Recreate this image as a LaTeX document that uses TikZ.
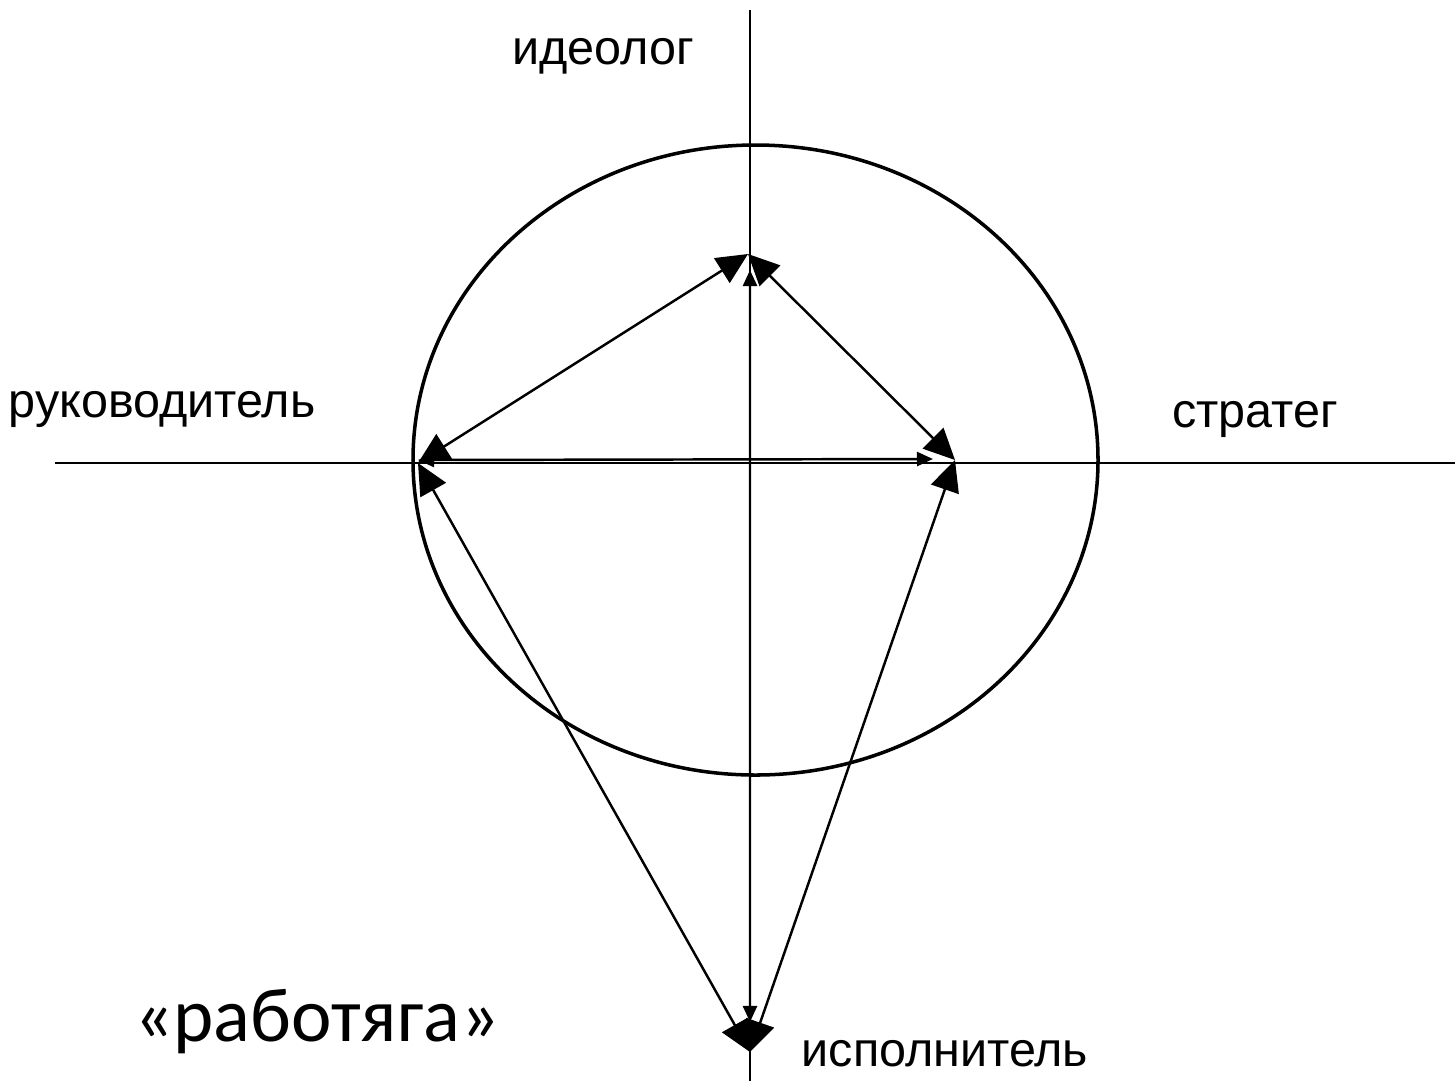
\documentclass[tikz,border=0pt]{standalone}
\usepackage{fontspec}
\setmainfont{Liberation Sans}
\newfontfamily\workerfont{Carlito}
\usetikzlibrary{arrows.meta, positioning}
\begin{document}
\begin{tikzpicture}[
  x=0.01cm, y=-0.01cm,
  role/.style={font=\fontsize{13.8}{16}\selectfont, inner sep=0pt},
  axis/.style={line width=0.5pt},
  link/.style={line width=0.7pt, {Triangle[length=3.1mm, width=2.9mm]}-{Triangle[length=3.1mm, width=2.9mm]}},
  minor/.style={line width=0.7pt, {Triangle[length=1.6mm, width=1.4mm]}-{Triangle[length=1.6mm, width=1.4mm]}}
]
  \useasboundingbox (0,0) rectangle (1455,1081);

  % axes and the circle
  \draw[axis] (750,10) -- (750,1081);
  \draw[axis] (55,463) -- (1455,463);
  \draw[line width=1pt] (755.5,460) ellipse [x radius=342.5, y radius=315];

  % roles
  \coordinate (ideo)  at (748,254);
  \coordinate (ruk)   at (418,463);
  \coordinate (strat) at (955,460);
  \coordinate (isp)   at (750,1052);

  \node[role] (ideoTxt)  at (603,56)   {идеолог};
  \node[role] (rukTxt)   at (162,409)  {руководитель};
  \node[role] (stratTxt) at (1255,419) {стратег};
  \node[role] (ispTxt)   at (945,1054) {исполнитель};
  \node[font=\workerfont\fontsize{21.8}{26}\selectfont, inner sep=0pt] (worker) at (317,1022) {«работяга»};

  % links
  \draw[link] (ruk) -- (ideo);
  \draw[link] (ideo) -- (strat);
  \draw[link] (ruk) -- (isp);
  \draw[link] (strat) -- (isp);
  \draw[minor] ([yshift=0.03cm]ruk) -- ([xshift=-0.22cm, yshift=0.01cm]strat);
  \draw[minor, shorten <=0.16cm, shorten >=0.3cm] ([xshift=0.02cm]ideo) -- (isp);
\end{tikzpicture}
\end{document}
